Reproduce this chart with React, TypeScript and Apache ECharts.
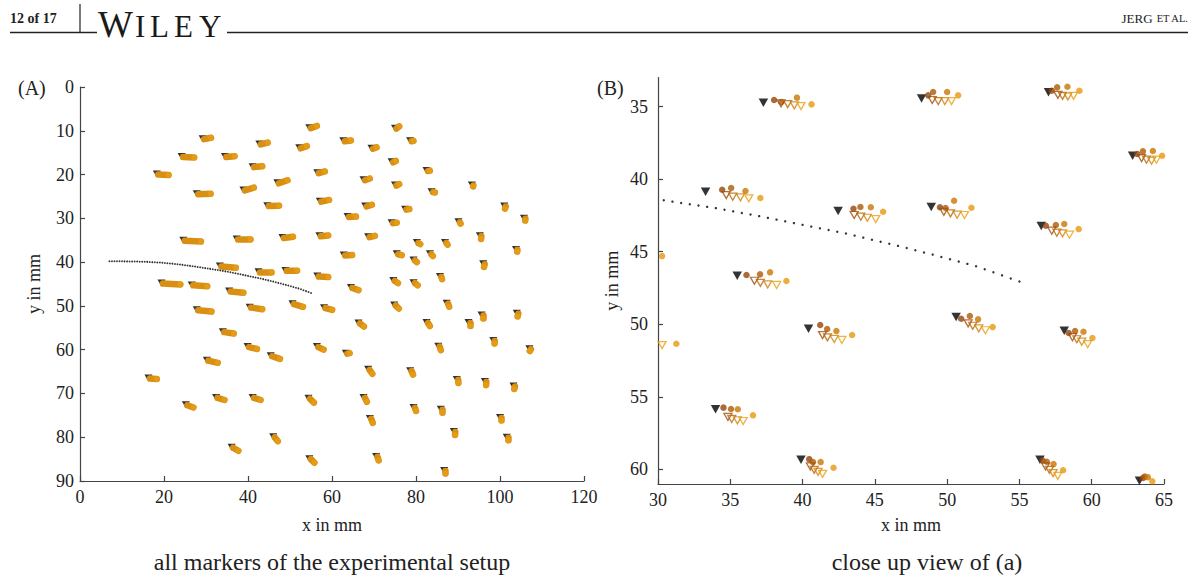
import React, { useEffect, useRef } from "react";
import * as echarts from "echarts";

const FONT = '"Liberation Serif", "Times New Roman", serif';

// ---------- Panel A: all markers (reference position, mm) ----------
const refA: [number, number][] = [
  [18.3, 19.9], [24.2, 15.9], [29.2, 11.8], [27.8, 24.4], [34.5, 15.9], [41.1, 18.2], [38.9, 23.5],
  [42.7, 13.0], [47.0, 21.9], [44.6, 27.1], [52.2, 13.9], [54.6, 9.3], [56.5, 19.6], [57.1, 26.1],
  [62.7, 12.3], [62.8, 38.4], [63.7, 29.6], [24.6, 35.0], [37.3, 34.7], [48.2, 34.4], [57.0, 34.0],
  [33.3, 40.9], [42.5, 42.2], [48.9, 41.9], [56.5, 43.2], [75.0, 9.4], [78.6, 12.3], [69.4, 14.0],
  [74.2, 17.1], [82.5, 19.1], [67.5, 21.2], [75.0, 22.4], [83.7, 23.9], [93.3, 22.4], [67.9, 27.2],
  [77.4, 27.9], [74.2, 31.0], [90.1, 30.8], [101.0, 27.2], [105.7, 30.0], [68.6, 34.2], [80.2, 35.5],
  [86.9, 35.5], [95.2, 34.0], [75.4, 38.1], [83.3, 38.1], [79.4, 39.5], [96.0, 40.4], [103.8, 37.1],
  [85.7, 43.3], [19.4, 44.8], [26.6, 45.2], [35.5, 46.6], [64.5, 45.8], [27.8, 50.9], [40.4, 50.3],
  [50.6, 49.5], [58.1, 50.4], [66.3, 53.9], [34.0, 55.9], [39.9, 59.3], [45.4, 61.4], [56.4, 59.3],
  [63.3, 60.8], [30.2, 62.4], [16.3, 66.5], [25.2, 72.6], [32.4, 70.9], [41.1, 70.9], [54.4, 71.1],
  [46.0, 79.9], [36.1, 82.3], [54.6, 84.9], [74.6, 44.2], [79.4, 44.7], [74.8, 49.8], [87.3, 49.4],
  [95.6, 52.1], [104.0, 51.7], [82.5, 53.8], [92.5, 53.8], [85.3, 59.2], [98.4, 57.9], [107.0, 59.8],
  [68.6, 64.5], [78.6, 64.8], [89.7, 66.8], [96.4, 67.3], [103.2, 68.3], [67.5, 70.9], [79.4, 73.2],
  [85.9, 73.6], [69.0, 75.7], [100.0, 75.5], [89.0, 78.7], [101.6, 80.0], [70.5, 84.4], [86.7, 87.6],
];

// displacement of the last measured state of each marker (mm)
const shiftA: [number, number][] = [
  [2.8, 0.2], [3.0, 0.2], [2.0, -0.2], [3.3, 0.0], [2.3, -0.1], [2.3, -0.1], [2.5, -0.5],
  [2.0, -0.3], [2.4, -0.6], [2.8, 0.0], [1.8, -0.4], [1.8, -0.4], [1.8, -0.3], [2.2, -0.3],
  [1.8, -0.1], [2.0, 0.0], [2.0, 0.0], [4.2, 0.3], [3.3, 0.1], [2.5, -0.2], [2.1, -0.1],
  [3.8, 0.4], [3.1, 0.05], [2.8, 0.05], [2.6, 0.2], [1.0, -0.4], [0.8, 0.0], [1.2, -0.2],
  [1.0, -0.2], [0.8, 0.0], [1.5, -0.3], [1.0, -0.2], [0.8, 0.2], [0.3, 0.3], [1.6, -0.3],
  [1.0, 0.0], [1.2, 0.0], [0.5, 0.4], [0.2, 0.6], [0.3, 0.5], [1.6, -0.2], [0.8, 0.4],
  [0.6, 0.5], [0.3, 0.7], [1.2, 0.3], [0.7, 0.5], [0.8, 0.5], [0.2, 0.7], [0.3, 0.5],
  [0.5, 0.6], [4.5, 0.3], [3.7, 0.3], [3.4, 0.4], [1.8, 0.6], [3.5, 0.4], [3.0, 0.45],
  [2.5, 0.7], [1.95, 0.5], [1.3, 0.8], [2.6, 0.4], [2.25, 0.55], [2.2, 0.7], [1.6, 0.7],
  [0.9, 0.0], [2.6, 0.6], [2.0, 0.2], [1.8, 0.6], [2.0, 0.6], [1.9, 0.6], [1.3, 1.0],
  [1.1, 1.0], [1.6, 0.8], [1.2, 0.9], [1.1, 0.6], [1.0, 0.6], [1.1, 0.8], [0.6, 0.8],
  [0.3, 0.8], [0.2, 0.7], [0.8, 0.8], [0.4, 0.8], [0.6, 0.9], [0.3, 0.7], [0.1, 0.5],
  [1.0, 1.0], [0.7, 0.9], [0.4, 0.8], [0.3, 0.8], [0.2, 0.7], [0.8, 1.0], [0.6, 0.8],
  [0.4, 0.8], [0.7, 1.0], [0.3, 0.7], [0.3, 0.8], [0.3, 0.7], [0.6, 0.9], [0.3, 0.7],
];

// ---------- dotted trajectory (mm) ----------
const trajX = [
  7.0, 7.6, 8.2, 8.8, 9.4, 10.0, 10.6, 11.2, 11.8, 12.4, 13.0, 13.6, 14.2, 14.8, 15.4, 16.0, 16.6,
  17.2, 17.8, 18.4, 19.0, 19.6, 20.2, 20.8, 21.4, 22.0, 22.6, 23.2, 23.8, 24.4, 25.0, 25.6, 26.2,
  26.8, 27.4, 28.0, 28.6, 29.2, 29.8, 30.4, 31.0, 31.6, 32.2, 32.8, 33.4, 34.0, 34.6, 35.2, 35.8,
  36.4, 37.0, 37.6, 38.2, 38.8, 39.4, 40.0, 40.6, 41.2, 41.8, 42.4, 43.0, 43.6, 44.2, 44.8, 45.4,
  46.0, 46.6, 47.2, 47.8, 48.4, 49.0, 49.6, 50.2, 50.8, 51.4, 52.0, 52.6, 53.2, 53.8, 54.4, 55.0,
];
const trajY = [
  39.8, 39.8, 39.81, 39.81, 39.82, 39.82, 39.83, 39.84, 39.85, 39.85, 39.86, 39.88, 39.9, 39.92,
  39.93, 39.95, 39.98, 40.01, 40.04, 40.07, 40.1, 40.15, 40.2, 40.25, 40.3, 40.35, 40.42, 40.49,
  40.56, 40.63, 40.7, 40.78, 40.86, 40.94, 41.02, 41.1, 41.19, 41.28, 41.37, 41.46, 41.55, 41.64,
  41.73, 41.82, 41.91, 42.0, 42.11, 42.22, 42.33, 42.44, 42.55, 42.67, 42.79, 42.91, 43.03, 43.15,
  43.27, 43.39, 43.51, 43.63, 43.75, 43.89, 44.03, 44.17, 44.31, 44.45, 44.6, 44.75, 44.9, 45.05,
  45.2, 45.36, 45.52, 45.68, 45.84, 46.0, 46.21, 46.42, 46.63, 46.84, 47.05,
];

// ---------- Panel B: close-up clusters (mm) ----------
const refB: [number, number][] = [
  [37.29, 34.74], [48.23, 34.44], [57.01, 34.02], [62.83, 38.39], [33.29, 40.87], [42.46, 42.2],
  [48.9, 41.92], [56.51, 43.23], [35.48, 46.65], [40.41, 50.3], [50.62, 49.5], [58.1, 50.44],
  [33.98, 55.85], [39.89, 59.33], [56.42, 59.33], [63.3, 60.78], [26.6, 45.0], [27.8, 50.9],
];
const circ1B: [number, number][] = [
  [38.03, 34.55], [48.69, 34.23], [57.24, 33.91], [63.15, 38.27], [34.44, 40.73], [43.52, 42.04],
  [49.5, 41.94], [56.83, 43.21], [36.12, 46.6], [41.22, 50.05], [50.97, 49.62], [58.41, 50.6],
  [34.53, 55.74], [40.46, 59.29], [56.6, 59.38], [63.56, 60.58], [27.3, 44.9], [28.5, 50.8],
];
const circ2B: [number, number][] = [
  [38.53, 34.69], [49.03, 34.0], [57.61, 33.68], [63.54, 38.09], [35.06, 40.61], [44.0, 41.92],
  [49.89, 41.99], [57.52, 43.16], [37.06, 46.56], [41.7, 50.32], [51.57, 49.43], [58.85, 50.46],
  [35.05, 55.83], [40.72, 59.49], [56.89, 59.47], [63.67, 60.48], [27.9, 44.85], [29.0, 50.9],
];
const circ3B: [number, number][] = [
  [39.61, 34.39], [50.0, 34.0], [58.32, 33.64], [64.23, 38.06], [36.05, 40.82], [44.72, 41.94],
  [50.48, 41.49], [58.1, 43.09], [37.75, 46.42], [42.34, 50.46], [52.14, 49.66], [59.43, 50.51],
  [35.52, 55.85], [41.25, 59.49], [57.36, 59.63], [63.88, 60.53], [28.9, 44.9], [29.6, 50.9],
];
const circ4B: [number, number][] = [
  [40.62, 34.85], [50.76, 34.23], [59.15, 33.91], [64.87, 38.39], [37.08, 41.3], [45.57, 42.25],
  [51.68, 41.97], [59.1, 43.44], [38.88, 47.02], [43.43, 50.74], [53.15, 50.19], [60.05, 50.94],
  [36.57, 56.27], [42.14, 59.88], [58.02, 60.05], [64.19, 60.81], [30.28, 45.3], [31.27, 51.34],
];
const tri1B: [number, number][] = [
  [38.51, 34.78], [48.97, 34.55], [57.66, 34.19], [63.45, 38.55], [34.72, 41.1], [43.57, 42.47],
  [49.77, 42.25], [57.24, 43.55], [36.67, 47.0], [41.38, 50.74], [51.45, 49.93], [58.67, 50.89],
  [34.84, 56.38], [40.54, 59.79], [56.81, 59.79], [63.4, 61.2], [27.6, 45.3], [28.8, 51.2],
];
const tri2B: [number, number][] = [
  [38.97, 34.83], [49.38, 34.62], [57.98, 34.26], [63.79, 38.66], [35.17, 41.21], [44.03, 42.59],
  [50.23, 42.36], [57.59, 43.69], [37.08, 47.14], [41.72, 50.9], [51.77, 50.1], [58.97, 51.03],
  [35.1, 56.52], [40.8, 60.02], [57.07, 60.02], [63.6, 61.35], [28.0, 45.4], [29.3, 51.3],
];
const tri3B: [number, number][] = [
  [39.43, 34.92], [49.84, 34.62], [58.35, 34.3], [64.14, 38.73], [35.7, 41.25], [44.48, 42.66],
  [50.69, 42.45], [57.98, 43.73], [37.59, 47.25], [42.19, 51.01], [52.19, 50.28], [59.31, 51.2],
  [35.49, 56.61], [41.07, 60.16], [57.33, 60.25], [63.8, 61.5], [28.6, 45.5], [29.8, 51.4],
];
const tri4B: [number, number][] = [
  [39.89, 34.97], [50.3, 34.62], [58.74, 34.26], [64.48, 38.66], [36.28, 41.32], [45.06, 42.75],
  [51.2, 42.47], [58.46, 43.83], [38.21, 47.29], [42.72, 51.08], [52.65, 50.41], [59.72, 51.36],
  [35.89, 56.66], [41.38, 60.3], [57.65, 60.44], [64.0, 61.6], [29.3, 45.6], [30.28, 51.43],
];

const ticksBY = [35, 40, 45, 50, 55, 60];
const circColors = ["#96450A", "#AE5A04", "#C87702", "#E69A0E"];
const triColors = ["#9E4E0A", "#B66508", "#CF820A", "#E8A016"];

export default function App() {
  const ref = useRef<HTMLDivElement>(null);
  useEffect(() => {
    if (!ref.current) return;
    const chart = echarts.init(ref.current, undefined, { renderer: "svg" });
    const traj = trajX.map((x, i) => [x, trajY[i]]);
    const axisLine = { show: true, onZero: false, lineStyle: { color: "#444", width: 1.2 } };
    const axisTick = { show: true, inside: true, length: 5, lineStyle: { color: "#444", width: 1.2 } };
    const label = { color: "#222", fontFamily: FONT, fontSize: 18 };
    const nameStyle = { color: "#222", fontFamily: FONT, fontSize: 18 };

    const circSeries = [circ1B, circ2B, circ3B, circ4B].map((d, i) => ({
      type: "scatter", xAxisIndex: 1, yAxisIndex: 1, data: d, symbol: "circle", symbolSize: 6.5,
      itemStyle: { color: circColors[i] }, silent: true, z: 3,
    }));
    const triSeries = [tri1B, tri2B, tri3B, tri4B].map((d, i) => ({
      type: "scatter", xAxisIndex: 1, yAxisIndex: 1, data: d, symbol: "triangle", symbolRotate: 180,
      symbolSize: [8, 7], itemStyle: { color: "rgba(0,0,0,0)", borderColor: triColors[i], borderWidth: 1.3 },
      silent: true, z: 4,
    }));

    const letter = (t: string, x: number, size: number) => ({
      type: "text", x, y: 37 - size * 0.34,
      style: { text: t, font: `${size}px ${FONT}`, fill: "#1a1a1a", verticalAlign: "middle" },
    });

    chart.setOption({
      animation: false,
      grid: [
        { left: 80, top: 87, width: 504, height: 394 },
        { left: 658, top: 77.5, width: 506, height: 406.5 },
      ],
      xAxis: [
        {
          gridIndex: 0, type: "value", min: 0, max: 120, interval: 20,
          axisLine, axisTick, axisLabel: { ...label, margin: 7 }, splitLine: { show: false },
          name: "x in mm", nameLocation: "middle", nameGap: 35, nameTextStyle: nameStyle,
        },
        {
          gridIndex: 1, type: "value", min: 30, max: 65, interval: 5,
          axisLine, axisTick, axisLabel: { ...label, margin: 7 }, splitLine: { show: false },
          name: "x in mm", nameLocation: "middle", nameGap: 32, nameTextStyle: nameStyle,
        },
      ],
      yAxis: [
        {
          gridIndex: 0, type: "value", min: 0, max: 90, interval: 10, inverse: true,
          axisLine, axisTick, axisLabel: { ...label, margin: 6 }, splitLine: { show: false },
          name: "y in mm", nameLocation: "middle", nameGap: 37, nameTextStyle: nameStyle,
        },
        {
          gridIndex: 1, type: "value", min: 33, max: 61, inverse: true,
          axisLine,
          axisTick: { ...axisTick, customValues: ticksBY },
          axisLabel: { ...label, margin: 10, customValues: ticksBY },
          splitLine: { show: false },
          name: "y in mm", nameLocation: "middle", nameGap: 37, nameTextStyle: nameStyle,
        },
      ],
      graphic: [
        { type: "text", left: 10, top: 11, style: { text: "12 of 17", font: `bold 14px ${FONT}`, fill: "#222" } },
        { type: "line", shape: { x1: 80, y1: 4, x2: 80, y2: 32.5 }, style: { stroke: "#333", lineWidth: 1.3 } },
        { type: "line", shape: { x1: 10, y1: 32.5, x2: 97, y2: 32.5 }, style: { stroke: "#222", lineWidth: 1.3 } },
        { type: "line", shape: { x1: 227, y1: 32.5, x2: 1188, y2: 32.5 }, style: { stroke: "#222", lineWidth: 1.3 } },
        letter("W", 98, 37),
        letter("I", 135, 31),
        letter("L", 150, 31),
        letter("E", 174, 31),
        letter("Y", 199, 31),
        {
          type: "text", x: 1188, y: 18,
          style: {
            text: "{a|JERG} {b|ET AL.}", align: "right", verticalAlign: "middle",
            rich: {
              a: { fontFamily: FONT, fontSize: 13, fill: "#222" },
              b: { fontFamily: FONT, fontSize: 10.5, fill: "#222" },
            },
          },
        },
        { type: "text", x: 18, y: 88, style: { text: "(A)", font: `20px ${FONT}`, fill: "#222", verticalAlign: "middle" } },
        { type: "text", x: 597, y: 88, style: { text: "(B)", font: `20px ${FONT}`, fill: "#222", verticalAlign: "middle" } },
        { type: "text", x: 332, y: 562, style: { text: "all markers of the experimental setup", font: `24px ${FONT}`, fill: "#222", align: "center", verticalAlign: "middle" } },
        { type: "text", x: 927, y: 562, style: { text: "close up view of (a)", font: `24px ${FONT}`, fill: "#222", align: "center", verticalAlign: "middle" } },
      ],
      series: [
        // Panel A
        {
          type: "scatter", xAxisIndex: 0, yAxisIndex: 0, data: refA, symbol: "triangle", symbolRotate: 180,
          symbolSize: [8, 7], itemStyle: { color: "#000" }, silent: true, z: 2,
        },
        {
          type: "lines", coordinateSystem: "cartesian2d", xAxisIndex: 0, yAxisIndex: 0, silent: true, z: 3,
          data: refA.map((p, i) => ({ coords: [[p[0] + 0.35, p[1] + 0.1], [p[0] + shiftA[i][0], p[1] + shiftA[i][1]]] })),
          lineStyle: { color: "#D98F12", width: 6.5, opacity: 1, cap: "round" },
        },
        {
          type: "scatter", xAxisIndex: 0, yAxisIndex: 0, silent: true, z: 4,
          data: refA.map((p, i) => [p[0] + shiftA[i][0], p[1] + shiftA[i][1]]),
          symbol: "circle", symbolSize: 6, itemStyle: { color: "#E69E16" },
        },
        {
          type: "scatter", xAxisIndex: 0, yAxisIndex: 0, data: traj, symbol: "circle", symbolSize: 1.8,
          itemStyle: { color: "#000" }, silent: true, z: 5,
        },
        // Panel B
        {
          type: "scatter", xAxisIndex: 1, yAxisIndex: 1, data: refB, symbol: "triangle", symbolRotate: 180,
          symbolSize: [9.5, 8.5], itemStyle: { color: "#000" }, silent: true, z: 2,
        },
        ...circSeries,
        ...triSeries,
        {
          type: "scatter", xAxisIndex: 1, yAxisIndex: 1, data: traj, symbol: "circle", symbolSize: 2.4,
          itemStyle: { color: "#000" }, silent: true, z: 5,
        },
      ],
    });
    return () => chart.dispose();
  }, []);
  return (
    <div
      ref={ref}
      style={{ position: "absolute", left: 0, top: 0, width: 1198, height: 577, background: "#fff" }}
    />
  );
}
